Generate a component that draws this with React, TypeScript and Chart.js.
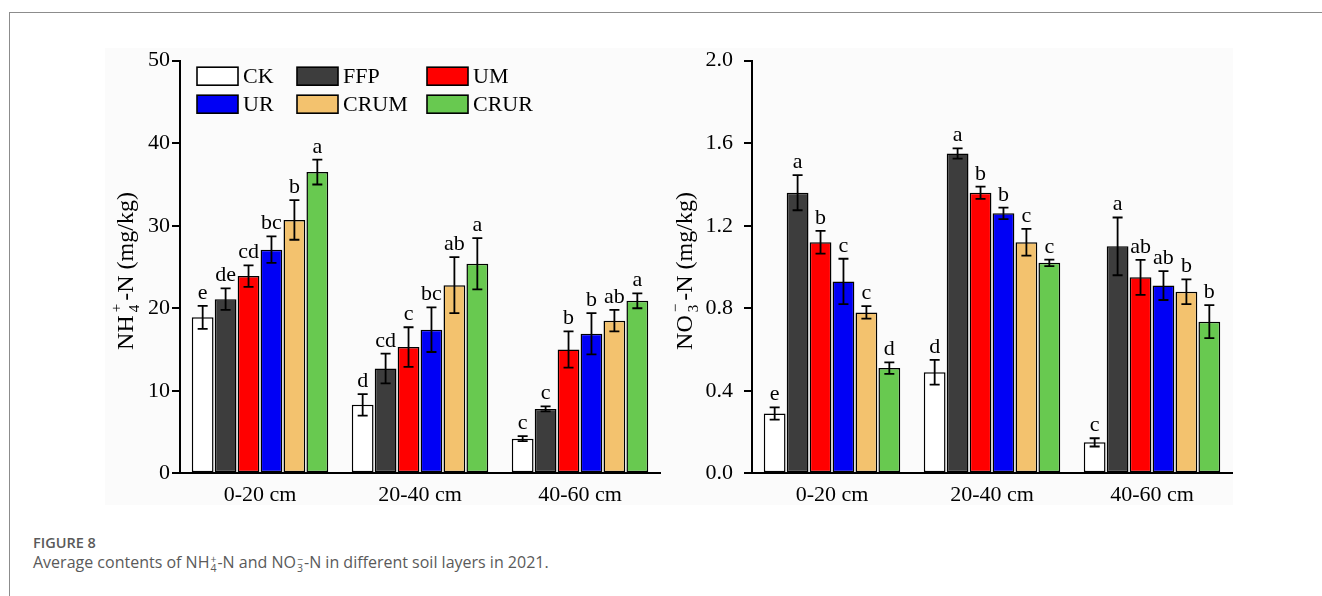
import React, { useEffect, useRef } from 'react';
import { Chart, registerables } from 'chart.js';

Chart.register(...registerables);

// Soil layers (x categories) and treatments (series)
const layers = ['0-20 cm', '20-40 cm', '40-60 cm'];
const treatments = ['CK', 'FFP', 'UM', 'UR', 'CRUM', 'CRUR'];
const fills = ['#ffffff', '#3d3d3d', '#ff0000', '#0000f5', '#f3c26e', '#68c950'];

// NH4+-N (mg/kg): means, standard errors and significance letters per treatment
const nh4CK = [18.9, 8.3, 4.2];
const nh4FFP = [21.1, 12.7, 7.8];
const nh4UM = [23.9, 15.3, 15.0];
const nh4UR = [27.1, 17.4, 16.9];
const nh4CRUM = [30.7, 22.8, 18.5];
const nh4CRUR = [36.5, 25.4, 20.9];

const nh4ErrCK = [1.4, 1.3, 0.3];
const nh4ErrFFP = [1.3, 1.8, 0.3];
const nh4ErrUM = [1.3, 2.4, 2.2];
const nh4ErrUR = [1.6, 2.7, 2.5];
const nh4ErrCRUM = [2.4, 3.4, 1.3];
const nh4ErrCRUR = [1.5, 3.1, 0.9];

const nh4LetCK = ['e', 'd', 'c'];
const nh4LetFFP = ['de', 'cd', 'c'];
const nh4LetUM = ['cd', 'c', 'b'];
const nh4LetUR = ['bc', 'bc', 'b'];
const nh4LetCRUM = ['b', 'ab', 'ab'];
const nh4LetCRUR = ['a', 'a', 'a'];

// NO3--N (mg/kg)
const no3CK = [0.29, 0.49, 0.15];
const no3FFP = [1.36, 1.55, 1.1];
const no3UM = [1.12, 1.36, 0.95];
const no3UR = [0.93, 1.26, 0.91];
const no3CRUM = [0.78, 1.12, 0.88];
const no3CRUR = [0.51, 1.02, 0.735];

const no3ErrCK = [0.03, 0.06, 0.02];
const no3ErrFFP = [0.085, 0.025, 0.14];
const no3ErrUM = [0.055, 0.03, 0.085];
const no3ErrUR = [0.11, 0.028, 0.07];
const no3ErrCRUM = [0.03, 0.065, 0.06];
const no3ErrCRUR = [0.028, 0.016, 0.08];

const no3LetCK = ['e', 'd', 'c'];
const no3LetFFP = ['a', 'a', 'a'];
const no3LetUM = ['b', 'b', 'ab'];
const no3LetUR = ['c', 'b', 'ab'];
const no3LetCRUM = ['c', 'c', 'b'];
const no3LetCRUR = ['d', 'c', 'b'];

// Axis ticks
const nh4Ticks = [0, 10, 20, 30, 40, 50];
const no3Ticks = [0, 0.4, 0.8, 1.2, 1.6, 2.0];

const SERIF = '"Liberation Serif", "Times New Roman", serif';

type TitleSpec = { base: string; sup: string; sub: string; rest: string };

// Error bars with caps plus significance letters above each bar
const errorBarPlugin = {
  id: 'errorBars',
  afterDatasetsDraw(chart: any, _args: any, opts: any) {
    const { ctx } = chart;
    const y = chart.scales.y;
    ctx.save();
    chart.data.datasets.forEach((ds: any, di: number) => {
      const meta = chart.getDatasetMeta(di);
      meta.data.forEach((bar: any, i: number) => {
        const v = ds.data[i];
        const e = opts.errs[di][i];
        const top = y.getPixelForValue(v + e);
        const bot = y.getPixelForValue(v - e);
        ctx.strokeStyle = '#000';
        ctx.lineWidth = 1.8;
        ctx.beginPath();
        ctx.moveTo(bar.x, top);
        ctx.lineTo(bar.x, bot);
        ctx.moveTo(bar.x - 5, top);
        ctx.lineTo(bar.x + 5, top);
        ctx.moveTo(bar.x - 5, bot);
        ctx.lineTo(bar.x + 5, bot);
        ctx.stroke();
        ctx.fillStyle = '#000';
        ctx.font = `22px ${SERIF}`;
        ctx.textAlign = 'center';
        ctx.textBaseline = 'alphabetic';
        ctx.fillText(opts.letters[di][i], bar.x, top - 7);
      });
    });
    ctx.restore();
  },
};

// Rotated y-axis title with a stacked superscript / subscript
const yTitlePlugin = {
  id: 'yTitle',
  afterDraw(chart: any, _args: any, opts: any) {
    const t: TitleSpec = opts.title;
    if (!t) return;
    const { ctx, chartArea } = chart;
    const big = `24px ${SERIF}`;
    const small = `15px ${SERIF}`;
    const gap = 3;
    ctx.save();
    ctx.font = big;
    const wBase = ctx.measureText(t.base).width;
    const wRest = ctx.measureText(t.rest).width;
    ctx.font = small;
    const wScript = Math.max(ctx.measureText(t.sup).width, ctx.measureText(t.sub).width);
    const total = wBase + gap + wScript + gap + wRest;
    const cy = (chartArea.top + chartArea.bottom) / 2 + opts.shift;
    ctx.translate(opts.x, cy);
    ctx.rotate(-Math.PI / 2);
    ctx.fillStyle = '#000';
    ctx.textBaseline = 'middle';
    ctx.textAlign = 'left';
    let x = -total / 2;
    ctx.font = big;
    ctx.fillText(t.base, x, 0);
    x += wBase + gap;
    ctx.font = small;
    ctx.fillText(t.sup, x, -10);
    ctx.fillText(t.sub, x, 8);
    x += wScript + gap;
    ctx.font = big;
    ctx.fillText(t.rest, x, 0);
    ctx.restore();
  },
};

// Two-row legend drawn inside the plot area
const boxLegendPlugin = {
  id: 'boxLegend',
  afterDraw(chart: any, _args: any, opts: any) {
    if (!opts.show) return;
    const { ctx, chartArea } = chart;
    const cols = [17, 117, 247];
    const rows = [6.5, 34.5];
    ctx.save();
    ctx.font = `22px ${SERIF}`;
    ctx.textBaseline = 'middle';
    ctx.textAlign = 'left';
    treatments.forEach((name, i) => {
      const bx = chartArea.left + cols[i % 3];
      const by = chartArea.top + rows[Math.floor(i / 3)];
      ctx.fillStyle = fills[i];
      ctx.fillRect(bx, by, 41, 18);
      ctx.strokeStyle = '#000';
      ctx.lineWidth = 1.6;
      ctx.strokeRect(bx, by, 41, 18);
      ctx.fillStyle = '#000';
      ctx.fillText(name, bx + 46, by + 10);
    });
    ctx.restore();
  },
};

function buildConfig(
  means: number[][],
  errs: number[][],
  letters: string[][],
  ticks: number[],
  decimals: number,
  title: TitleSpec,
  titleX: number,
  tickPad: number,
  legend: boolean
): any {
  return {
    type: 'bar',
    data: {
      labels: layers,
      datasets: treatments.map((t, i) => ({
        label: t,
        data: means[i],
        backgroundColor: fills[i],
        borderColor: '#000',
        borderWidth: 1.5,
        borderSkipped: false,
      })),
    },
    options: {
      animation: false,
      responsive: false,
      maintainAspectRatio: false,
      layout: { padding: { top: 20.7, right: 20, bottom: 6.7, left: 0 } },
      datasets: { bar: { categoryPercentage: 0.86, barPercentage: 0.95 } },
      plugins: {
        legend: { display: false },
        tooltip: { enabled: false },
        errorBars: { errs, letters },
        yTitle: { title, x: titleX, shift: 4 },
        boxLegend: { show: legend },
      },
      scales: {
        x: {
          grid: { display: false },
          border: { display: true, color: '#000', width: 2 },
          ticks: { color: '#000', font: { family: SERIF, size: 22 }, padding: 1 },
          afterFit: (s: any) => {
            s.height = 40;
          },
        },
        y: {
          min: ticks[0],
          max: ticks[ticks.length - 1],
          afterBuildTicks: (s: any) => {
            s.ticks = ticks.map((v) => ({ value: v }));
          },
          ticks: {
            color: '#000',
            font: { family: SERIF, size: 22, lineHeight: 0.8 },
            padding: tickPad,
            callback: (v: any) => Number(v).toFixed(decimals),
          },
          grid: {
            display: true,
            drawOnChartArea: false,
            drawTicks: true,
            tickLength: 8,
            color: '#000',
            lineWidth: 2,
          },
          border: { display: true, color: '#000', width: 2 },
          afterFit: (s: any) => {
            s.width = 80;
          },
        },
      },
    },
    plugins: [errorBarPlugin, yTitlePlugin, boxLegendPlugin],
  };
}

function BarPanel(props: { config: () => any; left: number }) {
  const ref = useRef<HTMLCanvasElement | null>(null);
  useEffect(() => {
    if (!ref.current) return;
    const chart = new Chart(ref.current, props.config());
    return () => chart.destroy();
  }, []);
  return (
    <canvas
      ref={ref}
      width={580}
      height={480}
      style={{ position: 'absolute', left: props.left, top: 40, width: 580, height: 480 }}
    />
  );
}

const stack = (sup: string, sub: string) => (
  <span
    style={{
      display: 'inline-flex',
      flexDirection: 'column',
      fontSize: 10.5,
      lineHeight: '9px',
      verticalAlign: 'middle',
      margin: '0 1px',
      textAlign: 'center',
    }}
  >
    <span>{sup}</span>
    <span>{sub}</span>
  </span>
);

export default function App() {
  const nh4Config = () =>
    buildConfig(
      [nh4CK, nh4FFP, nh4UM, nh4UR, nh4CRUM, nh4CRUR],
      [nh4ErrCK, nh4ErrFFP, nh4ErrUM, nh4ErrUR, nh4ErrCRUM, nh4ErrCRUR],
      [nh4LetCK, nh4LetFFP, nh4LetUM, nh4LetUR, nh4LetCRUM, nh4LetCRUR],
      nh4Ticks,
      0,
      { base: 'NH', sup: '+', sub: '4', rest: '-N (mg/kg)' },
      27,
      2,
      true
    );
  const no3Config = () =>
    buildConfig(
      [no3CK, no3FFP, no3UM, no3UR, no3CRUM, no3CRUR],
      [no3ErrCK, no3ErrFFP, no3ErrUM, no3ErrUR, no3ErrCRUM, no3ErrCRUR],
      [no3LetCK, no3LetFFP, no3LetUM, no3LetUR, no3LetCRUM, no3LetCRUR],
      no3Ticks,
      1,
      { base: 'NO', sup: '\u2212', sub: '3', rest: '-N (mg/kg)' },
      14,
      11,
      false
    );

  return (
    <div
      style={{
        position: 'fixed',
        left: 0,
        top: 0,
        width: 1322,
        height: 596,
        overflow: 'hidden',
        background: '#ffffff',
      }}
    >
      <div
        style={{
          position: 'absolute',
          left: 9,
          top: 12,
          width: 1400,
          height: 700,
          border: '1.5px solid #8c8c8c',
        }}
      />
      <div
        style={{
          position: 'absolute',
          left: 105,
          top: 48,
          width: 1128,
          height: 457,
          background: '#fbfbfb',
        }}
      />
      <BarPanel config={nh4Config} left={100} />
      <BarPanel config={no3Config} left={672} />
      <div
        style={{
          position: 'absolute',
          left: 33,
          top: 534,
          fontFamily: '"Open Sans", "Noto Sans", sans-serif',
          color: '#5a5a5a',
        }}
      >
        <div style={{ fontSize: 14.5, fontWeight: 600, lineHeight: '17px' }}>FIGURE 8</div>
        <div style={{ fontSize: 16, lineHeight: '22px' }}>
          Average contents of NH{stack('+', '4')}-N and NO{stack('\u2212', '3')}-N in different soil
          layers in 2021.
        </div>
      </div>
    </div>
  );
}
